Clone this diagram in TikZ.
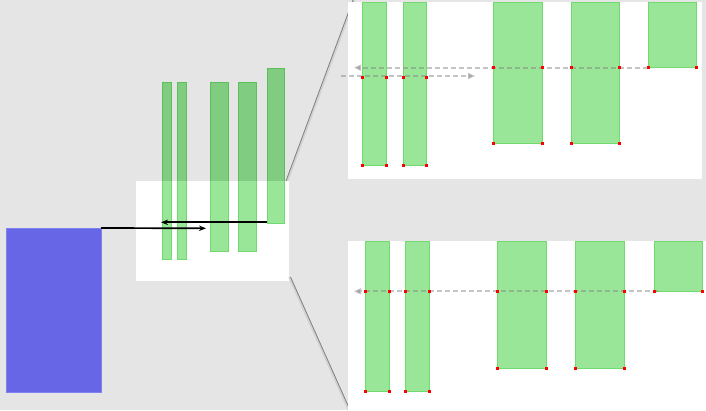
\documentclass[tikz,border=0pt]{standalone}
\usetikzlibrary{arrows.meta}
\definecolor{bg}{HTML}{E5E5E5}
\definecolor{bluefill}{HTML}{6666E6}
\definecolor{blueline}{HTML}{8080F0}
\definecolor{glight}{HTML}{99E699}
\definecolor{glightline}{HTML}{70DA70}
\definecolor{gdark}{HTML}{80CC80}
\definecolor{gdarkline}{HTML}{5CBF5C}
\definecolor{dashgray}{HTML}{808080}
\definecolor{zoomline}{HTML}{7F7F7F}
\definecolor{zoomshadow}{HTML}{D2D2D2}
\tikzset{
  box/.style={inner sep=0pt, outer sep=0pt, anchor=north west, minimum width=#1},
  lightbar/.style={box=#1, fill=glight, draw=glightline, line width=0.8pt},
  darkbar/.style={box=#1, fill=gdark, draw=gdarkline, line width=0.8pt},
  panel/.style={box=#1, fill=white},
  blackarrow/.style={draw=black, line width=1.7pt, -{Stealth[length=7pt,width=5.5pt]}},
  grayarrow/.style={draw=dashgray, opacity=0.45, line width=2pt, dash pattern=on 5pt off 3pt, -{Triangle[length=7pt,width=6pt,fill=dashgray]}},
  zoomln/.style={draw=zoomline, line width=0.8pt},
  zoomsh/.style={draw=zoomshadow, line width=2.2pt},
  dot/.style={fill=red, inner sep=0pt, minimum size=3pt},
}
\begin{document}
\begin{tikzpicture}[x=1pt,y=-1pt]
\useasboundingbox (0,0) rectangle (706,410);
\fill[bg] (0,0) rectangle (706,410);

% blue block
\node[box=95pt, minimum height=164pt, fill=bluefill, draw=blueline, line width=0.6pt] (blue) at (6,228) {};

% middle white window
\node[panel=153pt, minimum height=100pt] (win) at (136,181) {};

% middle bars (dark over gray)
\node[darkbar=9.4pt, minimum height=177.7pt] (m1) at (162.3,82) {};
\node[darkbar=9.3pt, minimum height=177.7pt] (m2) at (177,82) {};
\node[darkbar=18.7pt, minimum height=169pt] (m3) at (210,82) {};
\node[darkbar=18.3pt, minimum height=169pt] (m4) at (238,82) {};
\node[darkbar=17.7pt, minimum height=155.7pt] (m5) at (267,68) {};
% light part inside the window
\begin{scope}
\clip (win.north west) rectangle (win.south east);
\foreach \n in {m1,m2,m3,m4,m5}{
  \fill[glight] (\n.north west) rectangle (\n.south east);
  \draw[glightline, line width=0.8pt] (\n.north west) rectangle (\n.south east);
}
\end{scope}

% middle arrows
\coordinate (a1end) at (206,228.3);
\coordinate (a2start) at (267,222.3);
\coordinate (a2end) at (161,222.3);
\draw[blackarrow] (blue.north east) -- (a1end);
\draw[blackarrow] (a2start) -- (a2end);

% zoom lines
\coordinate (z1a) at (286,181);
\coordinate (z1b) at (353,0);
\coordinate (z2a) at (290.5,277);
\coordinate (z2b) at (350,410);
\draw[zoomsh] ([xshift=1.2pt]z1a) -- ([xshift=1.2pt]z1b);
\draw[zoomsh] ([xshift=-1.2pt]z2a) -- ([xshift=-1.2pt]z2b);
\draw[zoomln] (z1a) -- (z1b);
\draw[zoomln] (z2a) -- (z2b);

% upper panel
\node[panel=354pt, minimum height=177pt] (up) at (348,2) {};
\node[lightbar=24.4pt, minimum height=163.7pt] (u1) at (362.3,2) {};
\node[lightbar=23.7pt, minimum height=163.7pt] (u2) at (403,2) {};
\node[lightbar=48.7pt, minimum height=141.3pt] (u3) at (493.3,2) {};
\node[lightbar=48pt, minimum height=141.3pt] (u4) at (571,2) {};
\node[lightbar=48.7pt, minimum height=65.7pt] (u5) at (648,2) {};
\coordinate (ua1end) at (354,67.7);
\coordinate (ua2start) at (341,76);
\coordinate (ua2end) at (475,76);
\draw[grayarrow] (u5.south west) -- (u5.south west -| ua1end);
\draw[grayarrow] (ua2start) -- (ua2end);
\foreach \x in {362.3,386.7,403,426.7}{
  \node[dot] at (\x,77) {};
  \node[dot] at (\x,165.7) {};
}
\foreach \x in {493.3,542,571,619}{
  \node[dot] at (\x,67.7) {};
  \node[dot] at (\x,143.3) {};
}
\node[dot] at (u5.south west) {};
\node[dot] at (u5.south east) {};

% lower panel
\node[panel=358pt, minimum height=170pt] (lo) at (348,241) {};
\node[lightbar=24pt, minimum height=150pt] (l1) at (365.3,241) {};
\node[lightbar=24.4pt, minimum height=150pt] (l2) at (405.3,241) {};
\node[lightbar=49.4pt, minimum height=127pt] (l3) at (497.3,241) {};
\node[lightbar=49pt, minimum height=127pt] (l4) at (575.7,241) {};
\node[lightbar=48.7pt, minimum height=50.3pt] (l5) at (654,241) {};
\coordinate (la1start) at (658,291.3);
\coordinate (la1end) at (354,291.3);
\draw[grayarrow] (la1start) -- (la1end);
\foreach \x in {365.3,389.3,405.3,429.7,497.3,546.7,575.7,624.7,654,702.7}{
  \node[dot] at (\x,291.3) {};
}
\foreach \x in {365.3,389.3,405.3,429.7}{
  \node[dot] at (\x,391) {};
}
\foreach \x in {497.3,546.7,575.7,624.7}{
  \node[dot] at (\x,368) {};
}
\end{tikzpicture}
\end{document}
